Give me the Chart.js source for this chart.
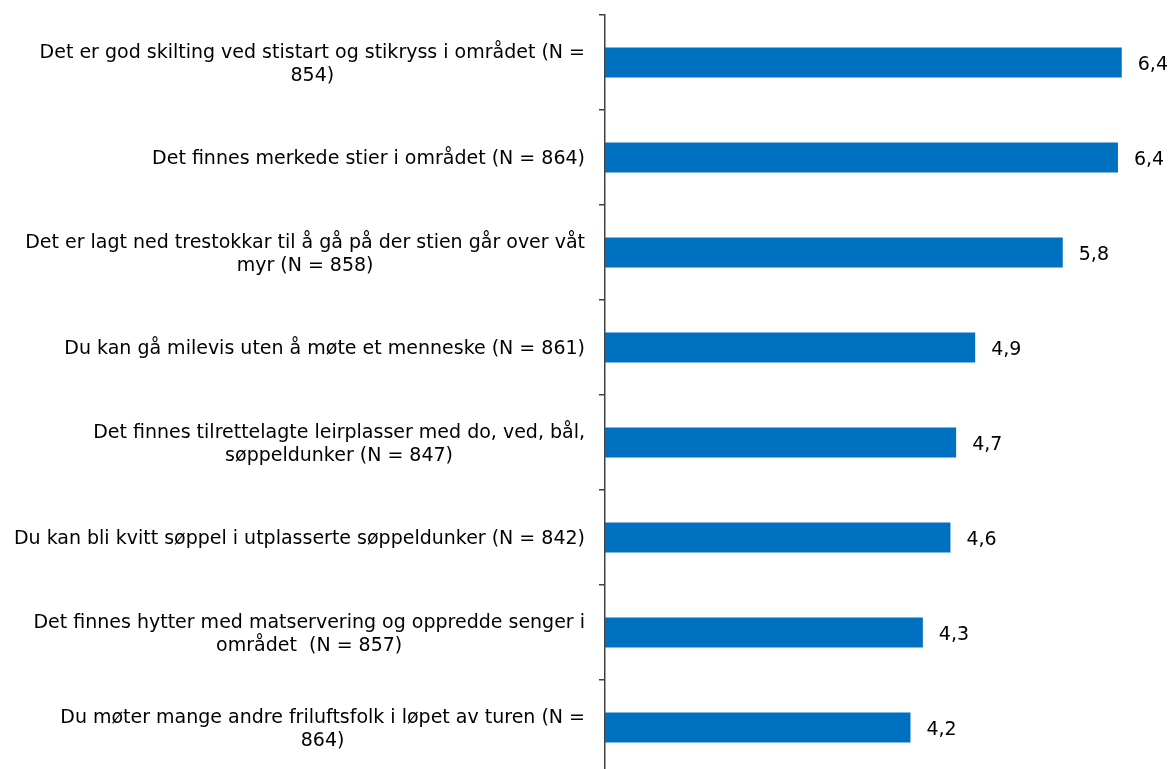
<!DOCTYPE html>
<html>
<head>
<meta charset="utf-8">
<script src="https://cdn.jsdelivr.net/npm/chart.js@4"></script>
<style>
  html, body { margin: 0; padding: 0; background: #fff; overflow: hidden; }
  #wrap { width: 1173px; height: 769px; overflow: hidden; }
</style>
</head>
<body>
<div id="wrap"><canvas id="chart" width="1176" height="775"></canvas></div>
<script>
// kategorier (linjeskift som i originalen)
const categories = [
  ["Det er god skilting ved stistart og stikryss i området (N =", "854)"],
  ["Det finnes merkede stier i området (N = 864)"],
  ["Det er lagt ned trestokkar til å gå på der stien går over våt", "myr (N = 858)"],
  ["Du kan gå milevis uten å møte et menneske (N = 861)"],
  ["Det finnes tilrettelagte leirplasser med do, ved, bål,", "søppeldunker (N = 847)"],
  ["Du kan bli kvitt søppel i utplasserte søppeldunker (N = 842)"],
  ["Det finnes hytter med matservering og oppredde senger i", "området  (N = 857)"],
  ["Du møter mange andre friluftsfolk i løpet av turen (N =", "864)"]
];

// gjennomsnitt (skala 1-7)
const values = [6.43, 6.39, 5.81, 4.89, 4.69, 4.63, 4.34, 4.21];

const axisMin = 1;
const axisMax = 7;

const FONT = '"DejaVu Sans", sans-serif';
const FONT_SIZE = 19;

// tegner kategorinavn og verdier selv (sentrert blokk, høyrejustert mot aksen)
const labelsPlugin = {
  id: "labels",
  afterDatasetsDraw(chart) {
    const ctx = chart.ctx;
    const y = chart.scales.y;
    const x = chart.scales.x;
    ctx.save();
    ctx.font = FONT_SIZE + "px " + FONT;
    ctx.fillStyle = "#000";
    ctx.textBaseline = "middle";

    categories.forEach((lines, i) => {
      const cy = y.getPixelForValue(i) + 2;
      const w = Math.max(...lines.map((l) => ctx.measureText(l).width));
      const cx = chart.chartArea.left - 20 - w / 2;
      const lh = 23;
      const top = cy - ((lines.length - 1) * lh) / 2;
      ctx.textAlign = "center";
      lines.forEach((l, k) => ctx.fillText(l, cx, top + k * lh));
    });

    ctx.font = "19px " + FONT;
    ctx.textAlign = "left";
    values.forEach((v, i) => {
      const px = x.getPixelForValue(v);
      const cy = y.getPixelForValue(i) + 3;
      ctx.fillText(v.toFixed(1).replace(".", ","), px + 16, cy);
    });
    ctx.restore();
  }
};

new Chart(document.getElementById("chart"), {
  type: "bar",
  data: {
    labels: categories,
    datasets: [
      {
        data: values,
        backgroundColor: "#0070C0",
        borderWidth: 0,
        categoryPercentage: 1,
        barPercentage: 0.315,
      },
    ],
  },
  options: {
    indexAxis: "y",
    responsive: false,
    animation: false,
    layout: { padding: { left: 0, right: 0, top: 15, bottom: 0 } },
    plugins: {
      legend: { display: false },
      tooltip: { enabled: false },
    },
    scales: {
      x: {
        display: false,
        min: axisMin,
        max: axisMax,
      },
      y: {
        afterFit: (s) => { s.width = 605; },
        ticks: { display: false },
        grid: {
          offset: true,
          drawOnChartArea: false,
          drawTicks: true,
          tickLength: 6,
          color: "#404040",
          lineWidth: 1.5,
        },
        border: { display: true, color: "#404040", width: 1.5 },
      },
    },
  },
  plugins: [labelsPlugin],
});
</script>
</body>
</html>
